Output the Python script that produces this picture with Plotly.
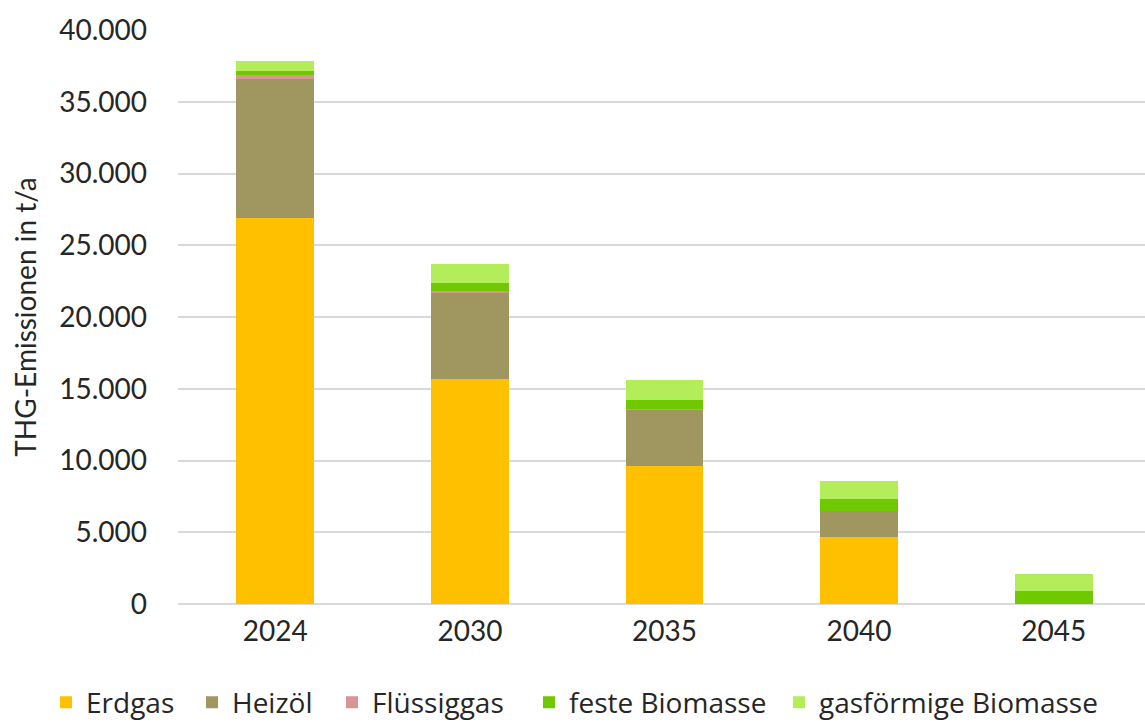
import plotly.graph_objects as go

years = ["2024", "2030", "2035", "2040", "2045"]
erdgas = [26900, 15660, 9620, 4650, 0]
heizoel = [9690, 5990, 3940, 1810, 0]
fluessiggas = [280, 140, 30, 0, 0]
feste_biomasse = [300, 560, 630, 860, 890]
gas_biomasse = [680, 1320, 1410, 1250, 1170]

series_names = ["Erdgas", "Heizöl", "Flüssiggas", "feste Biomasse", "gasförmige Biomasse"]
series_values = [erdgas, heizoel, fluessiggas, feste_biomasse, gas_biomasse]
series_colors = ["#FFC000", "#A0965F", "#D99594", "#70C800", "#B3EE5A"]

W, H = 1151, 722
legend_x_px = [46, 192, 332, 529, 779]  # left edge of each legend entry

txt = "#262626"
fig = go.Figure()
legend_layout = {}
for i, (name, vals, col) in enumerate(zip(series_names, series_values, series_colors)):
    key = "legend" if i == 0 else f"legend{i + 1}"
    fig.add_trace(go.Bar(x=years, y=vals, name=name, marker_color=col,
                         marker_line_width=0, legend=key, showlegend=True))
    legend_layout[key] = dict(
        orientation="h", xref="container", yref="container",
        x=legend_x_px[i] / W, xanchor="left", y=0.027, yanchor="middle",
        font=dict(family="Open Sans, Lato, sans-serif", size=28, color=txt),
        bgcolor="rgba(0,0,0,0)", itemwidth=30, visible=True)

fig.update_layout(
    showlegend=True,
    barmode="stack",
    bargap=0.6,
    width=W, height=H,
    margin=dict(l=178, r=0, t=30, b=118),
    paper_bgcolor="white", plot_bgcolor="white",
    separators=",.",
    font=dict(family="Lato, Roboto, sans-serif", size=28, color=txt),
    xaxis=dict(showgrid=False, showline=False, ticks="",
               ticklabelstandoff=8,
               tickfont=dict(size=28, color=txt)),
    yaxis=dict(range=[0, 40000], dtick=5000, tickformat=",d",
               showgrid=True, gridcolor="#D9D9D9", gridwidth=2,
               zeroline=True, zerolinecolor="#D9D9D9", zerolinewidth=2,
               ticklabelstandoff=30,
               tickfont=dict(size=28, color=txt),
               title=dict(text="THG-Emissionen in t/a", standoff=14,
                          font=dict(size=28, color=txt))),
    **legend_layout,
)

fig.write_html(
    "out.html",
    config={"displayModeBar": False},
    post_script="document.body.style.margin='0';document.body.style.overflow='hidden';",
)
